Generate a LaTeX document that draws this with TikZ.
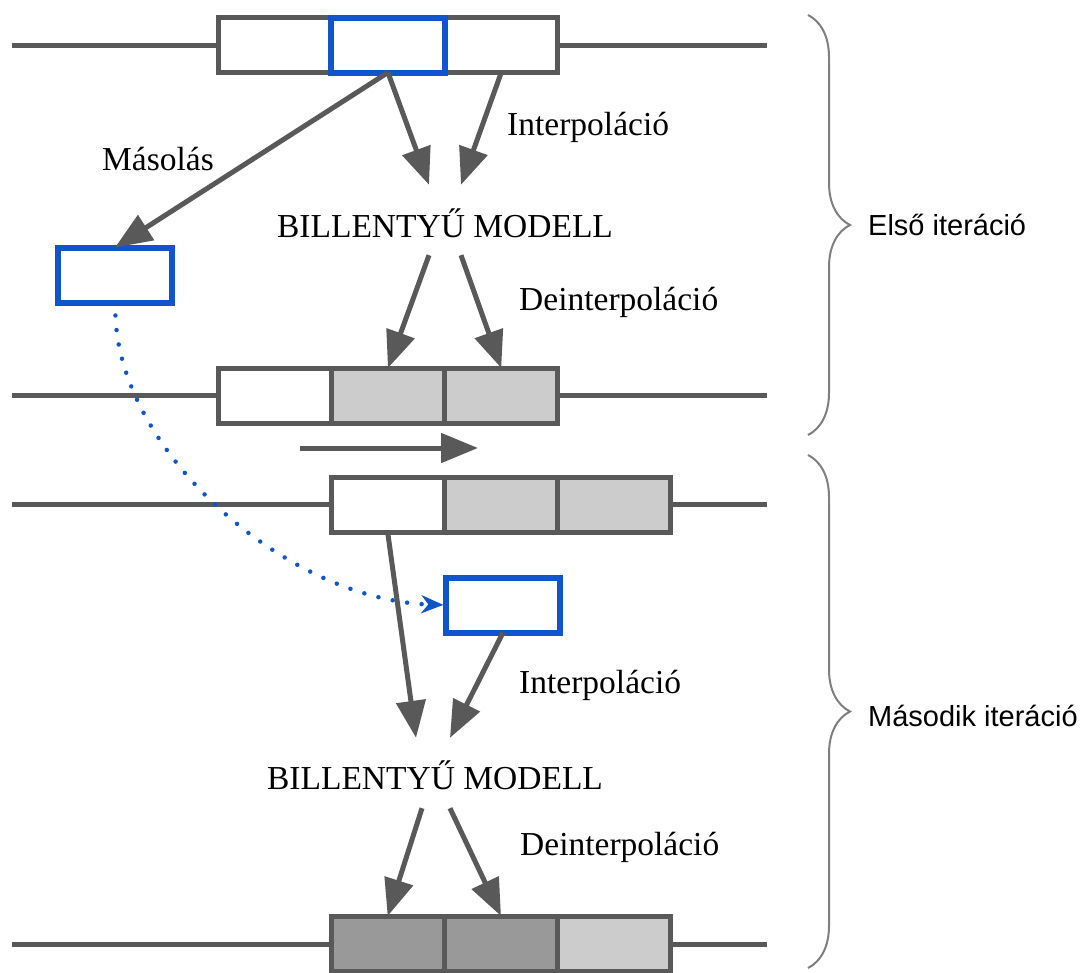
\documentclass[tikz,border=0pt]{standalone}
\usepackage{fontspec}
\setmainfont{Liberation Serif}
\newfontfamily\sidefont{Liberation Sans}
\usetikzlibrary{arrows.meta,positioning,decorations.pathreplacing}
\definecolor{linegray}{HTML}{595959}
\definecolor{copyblue}{HTML}{1155CC}
\definecolor{cellgray}{HTML}{CCCCCC}
\definecolor{celldark}{HTML}{999999}
\definecolor{bracegray}{HTML}{7F7F7F}

\begin{document}
\begin{tikzpicture}[
  x=1pt,y=-1pt,
  node distance=0pt,
  cell/.style={draw=linegray,line width=5pt,fill=white,minimum width=113.3pt,
    minimum height=55pt,inner sep=0pt,outer sep=0pt},
  filled/.style={cell,fill=cellgray},
  darkcell/.style={cell,fill=celldark},
  copybox/.style={cell,draw=copyblue,line width=6pt},
  rowline/.style={draw=linegray,line width=5pt},
  arrow/.style={draw=linegray,line width=5pt,-{Triangle[length=37pt,width=29pt]}},
  copyarrow/.style={draw=copyblue,line width=4.5pt,line cap=round,
    dash pattern=on 0pt off 14.6pt,-{Stealth[length=22pt,width=18pt,inset=7pt]}},
  txt/.style={font=\fontsize{33.5}{40}\selectfont,inner sep=0pt,
    text height=24pt,text depth=7pt},
  sidetxt/.style={font=\sidefont\fontsize{29}{35}\selectfont,inner sep=0pt},
  bracepath/.style={draw=bracegray,line width=2pt,decorate,
    decoration={brace,amplitude=42pt}}
]
  \useasboundingbox (0,0) rectangle (1083,972);

  % first row, the copied cell in blue
  \coordinate (a0) at (12,45);
  \coordinate (a4) at (767,45);
  \draw[rowline] (a0) -- (295,45);
  \draw[rowline] (540,45) -- (a4);
  \node[cell] (a1) at (274.65,45) {};
  \node[cell,right=113.3pt of a1] (a3) {};
  \node[copybox,right=of a1] (a2) {};

  \node[txt,anchor=base] (copylbl) at (158,170) {Másolás};
  \node[txt,anchor=base west] (interp1) at (507,135) {Interpoláció};
  \node[txt,anchor=base] (model1) at (445,237) {BILLENTYŰ MODELL};
  \node[txt,anchor=base west] (deint1) at (519,310) {Deinterpoláció};
  \node[copybox] (copy1) at (115,275) {};

  % second row
  \coordinate (b0) at (12,395.5);
  \coordinate (b4) at (767,395.5);
  \draw[rowline] (b0) -- (295,395.5);
  \draw[rowline] (540,395.5) -- (b4);
  \node[cell] (b1) at (274.65,395.5) {};
  \node[filled,right=of b1] (b2) {};
  \node[filled,right=of b2] (b3) {};

  \coordinate (shiftfrom) at (300,448);
  \coordinate (shiftto) at (478,448);

  % third row, shifted by one cell
  \coordinate (c0) at (12,504);
  \coordinate (c4) at (767,504);
  \draw[rowline] (c0) -- (400,504);
  \draw[rowline] (650,504) -- (c4);
  \node[cell] (c1) at (387.65,504.5) {};
  \node[filled,right=of c1] (c2) {};
  \node[filled,right=of c2] (c3) {};

  \node[copybox] (copy2) at (503,605) {};
  \node[txt,anchor=base west] (interp2) at (519,693) {Interpoláció};
  \node[txt,anchor=base] (model2) at (435,789) {BILLENTYŰ MODELL};
  \node[txt,anchor=base west] (deint2) at (520,855) {Deinterpoláció};

  % last row
  \coordinate (d0) at (12,944);
  \coordinate (d4) at (767,944);
  \draw[rowline] (d0) -- (400,944);
  \draw[rowline] (650,944) -- (d4);
  \node[darkcell] (d1) at (387.65,943.5) {};
  \node[darkcell,right=of d1] (d2) {};
  \node[filled,right=of d2] (d3) {};

  \draw[arrow] (a2.south) -- (copy1.north);
  \draw[arrow] (a2.south) -- ([xshift=-16pt,yshift=28pt]model1.north);
  \draw[arrow] (a3.south) -- ([xshift=16pt,yshift=28pt]model1.north);
  \draw[arrow] ([xshift=-16pt,yshift=-11pt]model1.south) -- (b2.north);
  \draw[arrow] ([xshift=16pt,yshift=-11pt]model1.south) -- (b3.north);
  \draw[arrow] (shiftfrom) -- (shiftto);
  \draw[copyarrow,shorten <=13pt,shorten >=3pt] (copy1.south)
    .. controls +(5,150) and +(-160,-5) .. (copy2.west);
  \draw[arrow] (c1.south) -- ([xshift=-19pt,yshift=27pt]model2.north);
  \draw[arrow] (copy2.south) -- ([xshift=15pt,yshift=27pt]model2.north);
  \draw[arrow] ([xshift=-13pt,yshift=-12pt]model2.south) -- (d1.north);
  \draw[arrow] ([xshift=15pt,yshift=-12pt]model2.south) -- (d2.north);

  % iterations
  \coordinate (top1) at (808,15);
  \coordinate (bot1) at (808,435);
  \coordinate (top2) at (808,455);
  \coordinate (bot2) at (808,968);
  \draw[bracepath] (top1) -- (bot1);
  \draw[bracepath] (top2) -- (bot2);
  \node[sidetxt,anchor=base west] (iter1) at (868,235) {Első iteráció};
  \node[sidetxt,anchor=base west] (iter2) at (868,726) {Második iteráció};
\end{tikzpicture}
\end{document}
